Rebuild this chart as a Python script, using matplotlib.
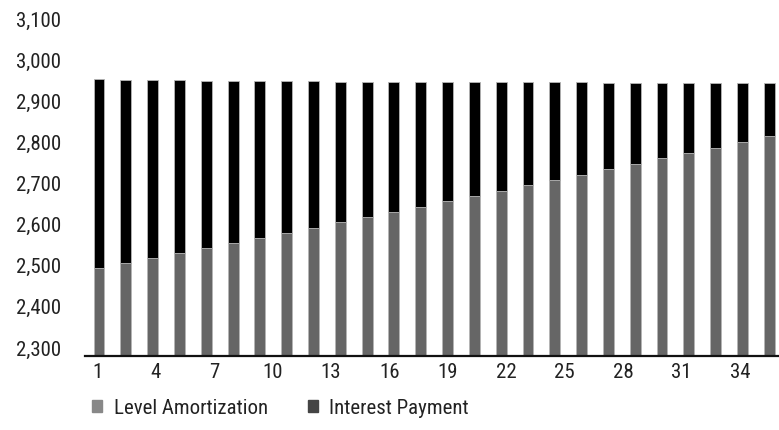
import matplotlib
matplotlib.use("Agg")
import matplotlib.pyplot as plt
from matplotlib.patches import Patch
import numpy as np

plt.rcParams['font.family'] = ['Liberation Sans Narrow', 'Nimbus Sans Narrow', 'Roboto Condensed',
                               'Archivo Narrow', 'DejaVu Sans']

# values (26 payment bars)
level_amortization = [2492, 2504, 2516, 2528, 2541, 2553, 2565, 2578, 2590, 2603,
                      2616, 2629, 2641, 2654, 2667, 2679, 2693, 2706, 2719, 2732,
                      2745, 2759, 2772, 2785, 2798, 2812]
total_payment = [2951.5, 2950.5, 2949.5, 2949, 2948, 2947.5, 2947, 2946.5, 2946, 2945.5,
                 2945, 2945, 2944.5, 2944.5, 2944, 2944, 2943.5, 2943.5, 2943.5, 2943,
                 2943, 2943, 2943, 2943, 2943, 2943]
interest_payment = [t - a for t, a in zip(total_payment, level_amortization)]

x_tick_labels = list(range(1, 35, 3))
y_ticks = list(range(2300, 3101, 100))

amort_color = '#666666'
interest_color = '#000000'

fig = plt.figure(figsize=(7.79, 4.31), dpi=100)
ax = fig.add_axes([85 / 779, 74 / 431, 694 / 779, 347 / 431])

# bars are spread over the 36-period label axis
bar_x = np.linspace(1.1, 35.5, len(level_amortization))
ax.bar(bar_x, level_amortization, width=0.56, color=amort_color,
       edgecolor='#b5b5b5', linewidth=0.6)
ax.bar(bar_x, interest_payment, width=0.56, bottom=level_amortization,
       color=interest_color, edgecolor='#b5b5b5', linewidth=0.6)

ax.set_xlim(0.38, 36.0)
ax.set_ylim(2278, 3122)
ax.set_yticks(y_ticks)
ax.set_yticklabels([f"{v:,}" for v in y_ticks])
ax.set_xticks(x_tick_labels)
ax.set_xticklabels([str(v) for v in x_tick_labels])

for side in ['left', 'right', 'top']:
    ax.spines[side].set_visible(False)
ax.spines['bottom'].set_linewidth(1.6)
ax.spines['bottom'].set_color('#111111')
ax.tick_params(axis='y', length=0, pad=17, labelsize=15, labelcolor='#222222')
ax.tick_params(axis='x', length=0, pad=4, labelsize=15, labelcolor='#222222')

handles = [Patch(color='#888888', label='Level Amortization'),
           Patch(color='#444444', label='Interest Payment')]
fig.legend(handles=handles, loc='center left', bbox_to_anchor=(92 / 779, 1 - 409 / 431),
           ncol=2, frameon=False, fontsize=15, borderpad=0, borderaxespad=0,
           handlelength=0.5, handleheight=0.5, handletextpad=0.55, columnspacing=1.9,
           labelcolor='#222222')

fig.savefig("out.png", dpi=100)
